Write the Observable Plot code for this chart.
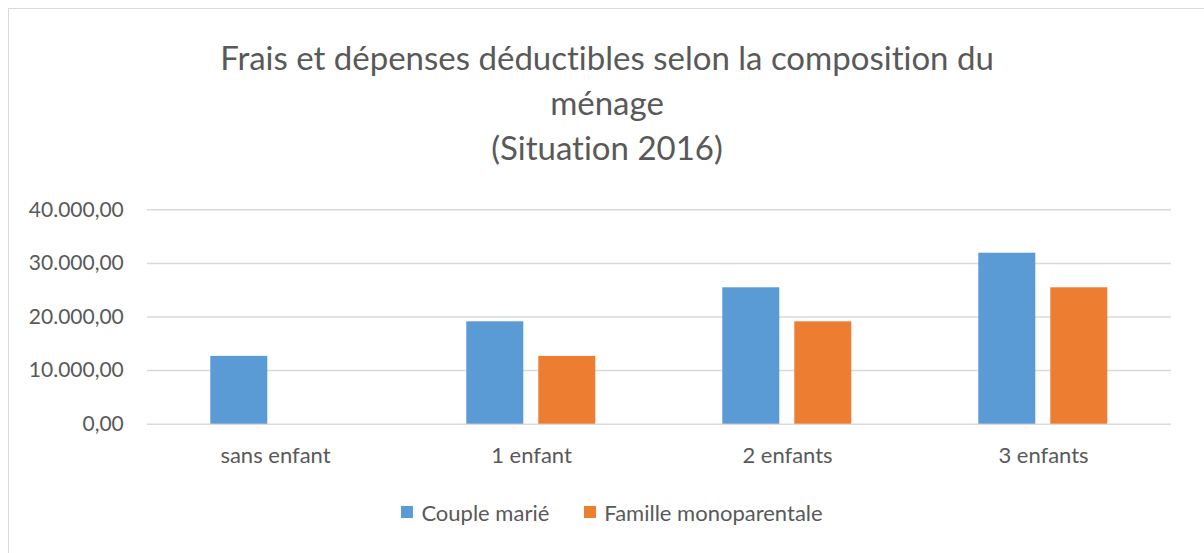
<!DOCTYPE html>
<html>
<head>
<meta charset="utf-8">
<script src="https://cdn.jsdelivr.net/npm/d3@7"></script>
<script src="https://cdn.jsdelivr.net/npm/@observablehq/plot@0.6"></script>
<style>
  html, body { margin: 0; padding: 0; background: #fff; }
  body { width: 1204px; height: 553px; overflow: hidden; position: relative; font-family: Lato, "Open Sans", sans-serif; color: #595959; font-variant-ligatures: none; }
  #frame { position: absolute; left: 8px; top: 8px; width: 1300px; height: 700px; border: 1px solid #d9d9d9; pointer-events: none; }
  #title { height: 190px; box-sizing: border-box; padding-top: 34.7px; padding-left: 10px; width: 1204px; text-align: center; font-size: 33px; line-height: 45px; color: #595959; }
  #chart { height: 300px; }
  #chart svg { display: block; font-variant-ligatures: none; }
  #legend { display: flex; justify-content: center; align-items: center; gap: 35px; padding-left: 20px; height: 44px; font-size: 22px; color: #595959; }
  .item { display: flex; align-items: center; gap: 8px; }
  .sw { width: 12px; height: 12px; display: inline-block; }
</style>
</head>
<body>
<div id="frame"></div>
<div id="title">Frais et dépenses déductibles selon la composition du<br>ménage<br>(Situation 2016)</div>
<div id="chart"></div>
<div id="legend"></div>
<script>
const categories = ["sans enfant", "1 enfant", "2 enfants", "3 enfants"];
const series = ["Couple marié", "Famille monoparentale"];
const coupleValues = [12650, 19100, 25450, 31900];
const monoValues = [null, 12650, 19100, 25450];
const yTicks = [0, 10000, 20000, 30000, 40000];
const colors = ["#5b9bd5", "#ed7d31"];

const seriesValues = [coupleValues, monoValues];
const data = categories.flatMap((c, i) =>
  series.map((s, j) => ({category: c, series: s, value: seriesValues[j][i]}))
).filter(d => d.value != null);

const loc = d3.formatLocale({decimal: ",", thousands: ".", grouping: [3], currency: ["", "€"]});
const fmt = loc.format(",.2f");

const chart = Plot.plot({
  width: 1204,
  height: 300,
  marginTop: 19.3,
  marginBottom: 66.3,
  marginLeft: 146.7,
  marginRight: 32.3,
  style: {fontFamily: "Lato, 'Open Sans', sans-serif", fontSize: "21px", color: "#595959", background: "transparent"},
  fx: {domain: categories, padding: 0, label: null},
  x: {domain: series, paddingInner: 0.211, paddingOuter: 0.863, axis: null},
  y: {domain: [0, 40000], axis: null},
  color: {domain: series, range: colors},
  marks: [
    Plot.gridY(yTicks, {stroke: "#d9d9d9", strokeOpacity: 1, strokeWidth: 1.5}),
    Plot.axisY(yTicks, {tickSize: 0, tickPadding: 23.7, tickFormat: fmt, label: null, fontSize: 21}),
    Plot.barY(data, {fx: "category", x: "series", y: "value", fill: "series"}),
    Plot.axisFx({anchor: "bottom", tickSize: 0, tickPadding: 22.7, label: null, fontSize: 22})
  ]
});
document.getElementById("chart").appendChild(chart);

const legend = document.getElementById("legend");
series.forEach((s, i) => {
  const item = document.createElement("div");
  item.className = "item";
  const sw = document.createElement("span");
  sw.className = "sw";
  sw.style.background = colors[i];
  const t = document.createElement("span");
  t.textContent = s;
  item.appendChild(sw);
  item.appendChild(t);
  legend.appendChild(item);
});
</script>
</body>
</html>
